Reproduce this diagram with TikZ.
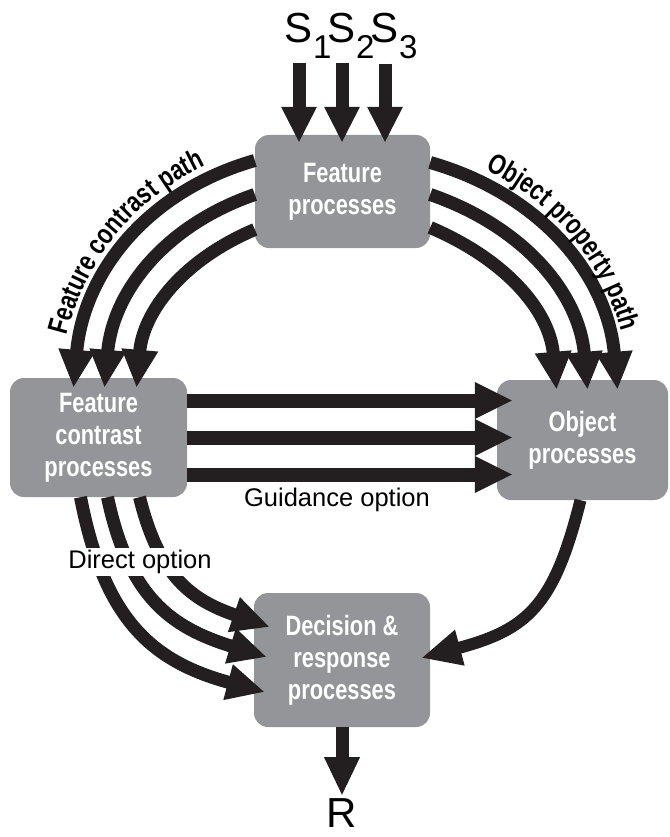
\documentclass[tikz,border=0pt]{standalone}
\usepackage{fontspec}
\setmainfont{Liberation Sans}
\newfontfamily\condfont[FakeStretch=0.78]{Liberation Sans}
\usepackage{xcolor}
\usepackage{tikz}
\usetikzlibrary{arrows.meta,decorations.text}

\definecolor{boxgray}{RGB}{147,149,152}
\definecolor{inkblack}{RGB}{35,31,32}
\newcommand{\procfont}{\condfont\bfseries\fontsize{28}{32}\selectfont}
\newcommand{\pathfont}{\condfont\bfseries\fontsize{28.5}{28.5}\selectfont}
\newcommand{\optfont}{\fontsize{25.5}{25.5}\selectfont}
\newcommand{\stim}[1]{S\rlap{\raisebox{-16pt}{\fontsize{33}{33}\selectfont #1}}}

\begin{document}
\begin{tikzpicture}[x=1pt,y=1pt,
	proc/.style={shape=rectangle,fill=boxgray,rounded corners=14pt,text=white,align=center,font=\procfont,inner sep=0pt},
	fat/.style={draw=inkblack,line width=13pt,-{Triangle[length=38pt,width=34pt]}}]
	\useasboundingbox (0,0) rectangle (669,-837);
	\node[proc,minimum width=175pt,minimum height=113pt] (feat) at (342.5,-191.5) {Feature\\processes};
	\node[proc,minimum width=177pt,minimum height=119pt] (fcon) at (98.5,-437.5) {Feature\\contrast\\processes};
	\node[proc,minimum width=171pt,minimum height=120pt] (obj) at (582.5,-440) {Object\\processes};
	\node[proc,minimum width=176pt,minimum height=134pt] (dec) at (342,-660) {Decision \&\\response\\processes};
	\node[anchor=base,inner sep=4pt,font=\fontsize{42}{42}\selectfont] (s1) at (299,-43) {\stim{1}};
	\node[anchor=base,inner sep=4pt,font=\fontsize{42}{42}\selectfont] (s2) at (342,-43) {\stim{2}};
	\node[anchor=base,inner sep=4pt,font=\fontsize{42}{42}\selectfont] (s3) at (385,-43) {\stim{3}};
	\node[anchor=north,inner sep=2pt,font=\fontsize{42}{42}\selectfont] (r) at (342,-796) {R};
	\foreach \s in {s1,s2,s3}
		\draw[fat,-{Triangle[length=36pt,width=33pt]}] (\s.south) -- ([yshift=-8pt]\s.south |- feat.north);
	\draw[fat] ([yshift=31pt]feat.west) to[out=196,in=85] ([xshift=-25pt,yshift=-10pt]fcon.north);
	\draw[fat] ([yshift=-3pt]feat.west) to[out=199,in=85] ([xshift=6pt,yshift=-10pt]fcon.north);
	\draw[fat] ([yshift=-38pt]feat.west) to[out=203,in=85] ([xshift=38pt,yshift=-10pt]fcon.north);
	\draw[fat] ([yshift=29pt]feat.east) to[out=344,in=95] ([xshift=35pt,yshift=-10pt]obj.north);
	\draw[fat] ([yshift=-3pt]feat.east) to[out=341,in=95] ([xshift=5pt,yshift=-10pt]obj.north);
	\draw[fat] ([yshift=-36pt]feat.east) to[out=337,in=95] ([xshift=-26pt,yshift=-10pt]obj.north);
	\foreach \dy in {37,0,-37}
		\draw[fat,line width=14pt] ([yshift=\dy pt]fcon.east) -- ([xshift=16pt,yshift=\dy pt]fcon.east -| obj.west);
	\draw[fat] ([xshift=-18pt]fcon.south) to[out=281,in=165,looseness=1.15] ([xshift=11pt,yshift=-32pt]dec.west);
	\draw[fat] ([xshift=9pt]fcon.south) to[out=282,in=163,looseness=1.15] ([xshift=13pt,yshift=3pt]dec.west);
	\draw[fat] ([xshift=41pt]fcon.south) to[out=284,in=161,looseness=1.15] ([xshift=16pt,yshift=33pt]dec.west);
	\draw[fat,line width=12pt,-{Triangle[length=40pt,width=34pt]}] ([xshift=-2pt]obj.south) to[out=256,in=15,looseness=1.25] ([xshift=-9pt,yshift=2pt]dec.east);
	\draw[fat,-{Triangle[length=39pt,width=33pt]}] (dec.south) -- (r.north);
	\node[font=\optfont] (guide) at (337,-500) {Guidance option};
	\node[font=\optfont,fill=white,inner sep=2pt] (direct) at (140,-562) {Direct option};
	\path[decorate,decoration={text along path,text align=center,text={|\pathfont|Feature contrast path}}]
		(58,-388) to[out=85,in=196] (255,-147);
	\path[decorate,decoration={text along path,text align=center,text={|\pathfont|Object property path}}]
		(430,-148) to[out=344,in=95] (632,-390);
\end{tikzpicture}
\end{document}
